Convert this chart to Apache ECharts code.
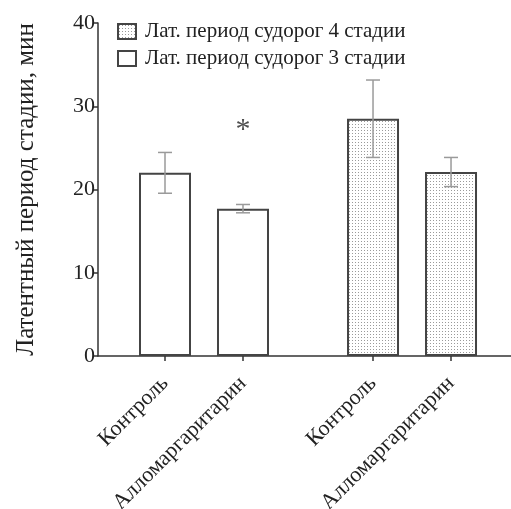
<!DOCTYPE html>
<html>
<head>
<meta charset="utf-8">
<script src="https://cdn.jsdelivr.net/npm/echarts@6/dist/echarts.min.js"></script>
<style>
  html, body { margin: 0; padding: 0; background: #fff; }
  #main { width: 511px; height: 509px; }
</style>
</head>
<body>
<div id="main"></div>
<script>
// группы на оси X (Контроль / Алломаргаритарин для 3 и 4 стадии)
var groupNames = ['Контроль', 'Алломаргаритарин', 'Контроль', 'Алломаргаритарин'];
var groupPos = [1, 2, 3.667, 4.667];
var stage3Mean = [22.0, 17.7];
var stage3Err = [2.45, 0.5];
var stage4Mean = [28.5, 22.1];
var stage4Err = [4.65, 1.75];
var yTicks = [0, 10, 20, 30, 40];
var starPoint = [2, 27.6];

var fontFam = '"Liberation Serif", "DejaVu Serif", serif';

// точечная заливка
function dotPattern() {
    var c = document.createElement('canvas');
    c.width = 3; c.height = 3;
    var ctx = c.getContext('2d');
    ctx.fillStyle = '#fff';
    ctx.fillRect(0, 0, 3, 3);
    ctx.fillStyle = '#9a9a9a';
    ctx.fillRect(1, 1, 1, 1);
    return c;
}

var myChart = echarts.init(document.getElementById('main'));

var bars3 = [], bars4 = [], errData = [];
for (var i = 0; i < 2; i++) {
    bars3.push([groupPos[i], stage3Mean[i]]);
    errData.push([groupPos[i], stage3Mean[i] - stage3Err[i], stage3Mean[i] + stage3Err[i]]);
}
for (var j = 0; j < 2; j++) {
    bars4.push([groupPos[j + 2], stage4Mean[j]]);
    errData.push([groupPos[j + 2], stage4Mean[j] - stage4Err[j], stage4Mean[j] + stage4Err[j]]);
}

var option = {
    backgroundColor: '#fff',
    animation: false,
    grid: { left: 98, top: 23, right: 0, bottom: 153, outerBoundsMode: 'none' },
    legend: {
        orient: 'vertical',
        left: 117,
        top: 21,
        padding: 0,
        icon: 'rect',
        itemWidth: 18,
        itemHeight: 15,
        itemGap: 6,
        textStyle: { fontFamily: fontFam, fontSize: 21, color: '#222', padding: [0, 0, 0, 4] },
        data: ['Лат. период судорог 4 стадии', 'Лат. период судорог 3 стадии']
    },
    xAxis: {
        type: 'value',
        min: 0.141,
        max: 5.436,
        splitLine: { show: false },
        axisLine: { lineStyle: { color: '#333', width: 1.5 } },
        axisTick: { customValues: groupPos, length: 5, lineStyle: { color: '#333', width: 1.5 } },
        axisLabel: {
            customValues: groupPos,
            rotate: 45,
            margin: 24,
            fontFamily: fontFam,
            fontSize: 22,
            color: '#222',
            formatter: function (v) {
                for (var k = 0; k < groupPos.length; k++) {
                    if (Math.abs(groupPos[k] - v) < 0.01) return groupNames[k];
                }
                return '';
            }
        }
    },
    yAxis: {
        type: 'value',
        min: yTicks[0],
        max: yTicks[yTicks.length - 1],
        interval: 10,
        name: 'Латентный период стадии, мин',
        nameLocation: 'middle',
        nameGap: 59,
        nameTextStyle: { fontFamily: fontFam, fontSize: 25, color: '#222' },
        splitLine: { show: false },
        axisLine: { show: true, lineStyle: { color: '#333', width: 1.5 } },
        axisTick: { show: true, length: 5, lineStyle: { color: '#333', width: 1.5 } },
        axisLabel: { fontFamily: fontFam, fontSize: 22, color: '#222', margin: 3 }
    },
    series: [
        {
            name: 'Лат. период судорог 3 стадии',
            type: 'bar',
            barWidth: 52,
            barGap: '-100%',
            itemStyle: { color: '#fff', borderColor: '#444', borderWidth: 2 },
            data: bars3
        },
        {
            name: 'Лат. период судорог 4 стадии',
            type: 'bar',
            barWidth: 52,
            barGap: '-100%',
            itemStyle: {
                color: { image: dotPattern(), repeat: 'repeat' },
                borderColor: '#444',
                borderWidth: 2
            },
            data: bars4
        },
        {
            type: 'custom',
            z: 5,
            renderItem: function (params, api) {
                var x = api.value(0);
                var lo = api.coord([x, api.value(1)]);
                var hi = api.coord([x, api.value(2)]);
                var hw = 7;
                var st = { stroke: '#9a9a9a', lineWidth: 1.5 };
                return {
                    type: 'group',
                    children: [
                        { type: 'line', shape: { x1: lo[0], y1: lo[1], x2: hi[0], y2: hi[1] }, style: st },
                        { type: 'line', shape: { x1: hi[0] - hw, y1: hi[1], x2: hi[0] + hw, y2: hi[1] }, style: st },
                        { type: 'line', shape: { x1: lo[0] - hw, y1: lo[1], x2: lo[0] + hw, y2: lo[1] }, style: st }
                    ]
                };
            },
            data: errData
        },
        {
            type: 'scatter',
            symbolSize: 1,
            itemStyle: { color: 'rgba(0,0,0,0)' },
            label: {
                show: true,
                position: 'inside',
                formatter: '*',
                fontFamily: fontFam,
                fontSize: 30,
                color: '#222',
                offset: [0, 4]
            },
            data: [starPoint]
        }
    ]
};
myChart.setOption(option);
</script>
</body>
</html>
